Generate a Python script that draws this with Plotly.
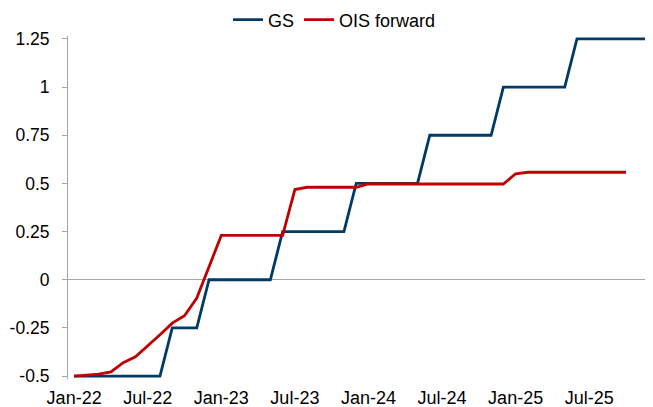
import pandas as pd
import plotly.graph_objects as go

GS_COLOR = "#003A66"
OIS_COLOR = "#C00000"
AXIS_GREY = "#A6A6A6"
FONT = "Liberation Sans, Arial, sans-serif"

# monthly categories, Jan-22 .. Dec-25
months = [d.strftime("%b-%y") for d in pd.date_range("2022-01-01", "2025-12-01", freq="MS")]

gs = [-0.5] * 8 + [-0.25] * 3 + [0.0] * 6 + [0.25] * 6 + [0.5] * 6 + [0.75] * 6 + [1.0] * 6 + [1.25] * 7

ois_forward = [
    -0.50, -0.495, -0.49, -0.478, -0.43, -0.40, -0.345, -0.285, -0.225, -0.187, -0.095, 0.07,
    0.23, 0.23, 0.23, 0.23, 0.23, 0.23, 0.468, 0.48, 0.48, 0.48, 0.48, 0.48,
    0.497, 0.497, 0.497, 0.497, 0.497, 0.497, 0.497, 0.497, 0.497, 0.497, 0.497, 0.497,
    0.55, 0.558, 0.558, 0.558, 0.558, 0.558, 0.558, 0.558, 0.558, 0.558,
]

y_ticks = [-0.5, -0.25, 0, 0.25, 0.5, 0.75, 1, 1.25]
y_tick_text = ["-0.5", "-0.25", "0", "0.25", "0.5", "0.75", "1", "1.25"]

fig = go.Figure()
fig.add_trace(go.Scatter(x=months, y=gs, name="GS", mode="lines",
                         line=dict(color=GS_COLOR, width=2.8)))
fig.add_trace(go.Scatter(x=months[:len(ois_forward)], y=ois_forward, name="OIS forward", mode="lines",
                         line=dict(color=OIS_COLOR, width=2.8)))

# the page body adds an 8px offset, so the figure is 8px smaller than the window
fig.update_layout(
    width=645, height=399,
    margin=dict(l=60, r=0, t=28, b=28, autoexpand=False),
    paper_bgcolor="white", plot_bgcolor="white",
    font=dict(family=FONT, size=17.5, color="#000000"),
    showlegend=True,
    legend=dict(orientation="h", x=0.2735, xanchor="left", y=1.0466, yanchor="middle",
                font=dict(size=18), itemwidth=30, tracegroupgap=0,
                bgcolor="rgba(0,0,0,0)"),
)
fig.update_xaxes(
    type="category", range=[-0.5, 47.2],
    tickmode="array", tickvals=months[::6], ticktext=months[::6],
    showgrid=False, showline=False, ticks="", zeroline=False,
    tickfont=dict(size=18), ticklabelstandoff=6,
)
fig.update_yaxes(
    range=[-0.515, 1.265],
    tickmode="array", tickvals=y_ticks, ticktext=y_tick_text,
    showgrid=False, zeroline=True, zerolinecolor=AXIS_GREY, zerolinewidth=1,
    showline=True, linecolor=AXIS_GREY, linewidth=1,
    ticks="outside", ticklen=5, tickcolor=AXIS_GREY,
    tickfont=dict(size=17.5), ticklabelstandoff=9,
)

fig.write_html("out.html")
